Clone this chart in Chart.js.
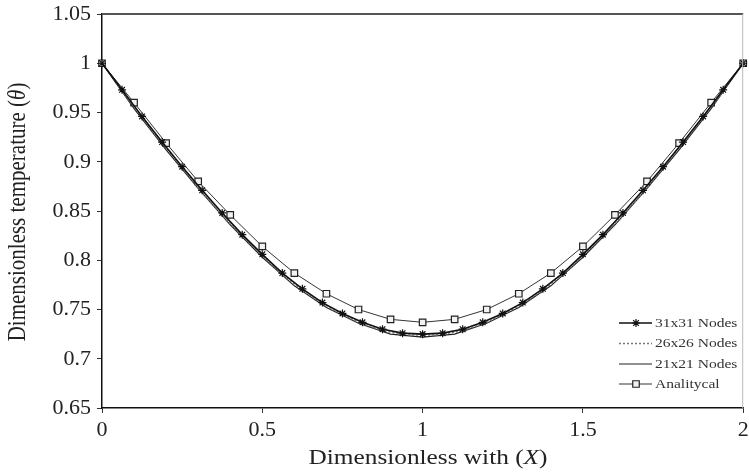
<!DOCTYPE html>
<html>
<head>
<meta charset="utf-8">
<script src="https://cdn.jsdelivr.net/npm/chart.js@4.4.0/dist/chart.umd.min.js"></script>
<style>
  body { margin: 0; background: #fff; }
  canvas { display: block; }
</style>
</head>
<body>
<canvas id="thetaChart" width="749" height="474"></canvas>
<script>
// 31x31 grid solution (marked with stars)
let x31 = [0, 0.0625, 0.125, 0.1875, 0.25, 0.3125, 0.375, 0.4375, 0.5, 0.5625, 0.625, 0.6875, 0.75, 0.8125, 0.875, 0.9375, 1,
           1.0625, 1.125, 1.1875, 1.25, 1.3125, 1.375, 1.4375, 1.5, 1.5625, 1.625, 1.6875, 1.75, 1.8125, 1.875, 1.9375, 2];
let theta31 = [1.000, 0.973, 0.946, 0.920, 0.895, 0.871, 0.848, 0.826, 0.806, 0.787, 0.771, 0.757, 0.746, 0.737, 0.730, 0.726, 0.725,
               0.726, 0.730, 0.737, 0.746, 0.757, 0.771, 0.787, 0.806, 0.826, 0.848, 0.871, 0.895, 0.920, 0.946, 0.973, 1.000];

// 26x26 grid
let x26 = [0, 0.08, 0.16, 0.24, 0.32, 0.40, 0.48, 0.56, 0.64, 0.72, 0.80, 0.88, 0.96,
           1.04, 1.12, 1.20, 1.28, 1.36, 1.44, 1.52, 1.60, 1.68, 1.76, 1.84, 1.92, 2];
let theta26 = [1.000, 0.964, 0.930, 0.898, 0.866, 0.837, 0.811, 0.786, 0.766, 0.750, 0.737, 0.728, 0.724,
               0.724, 0.728, 0.737, 0.750, 0.766, 0.786, 0.811, 0.837, 0.866, 0.898, 0.930, 0.964, 1.000];

// 21x21 grid
let x21 = [0, 0.1, 0.2, 0.3, 0.4, 0.5, 0.6, 0.7, 0.8, 0.9, 1, 1.1, 1.2, 1.3, 1.4, 1.5, 1.6, 1.7, 1.8, 1.9, 2];
let theta21 = [1.000, 0.954, 0.912, 0.873, 0.836, 0.803, 0.774, 0.752, 0.736, 0.725, 0.722,
               0.725, 0.736, 0.752, 0.774, 0.803, 0.836, 0.873, 0.912, 0.954, 1.000];

// analytical solution
let xAna = [0, 0.1, 0.2, 0.3, 0.4, 0.5, 0.6, 0.7, 0.8, 0.9, 1, 1.1, 1.2, 1.3, 1.4, 1.5, 1.6, 1.7, 1.8, 1.9, 2];
let thetaAna = [1.000, 0.960, 0.919, 0.880, 0.846, 0.814, 0.787, 0.766, 0.750, 0.740, 0.737,
                0.740, 0.750, 0.766, 0.787, 0.814, 0.846, 0.880, 0.919, 0.960, 1.000];

let seriesNames = ['31x31 Nodes', '26x26 Nodes', '21x21 Nodes', 'Analitycal'];
let xTicks = [0, 0.5, 1, 1.5, 2];
let yTicks = [0.65, 0.7, 0.75, 0.8, 0.85, 0.9, 0.95, 1, 1.05];

const SERIF = '"Liberation Serif", serif';
const STRETCH = 1.15;

function pts(xs, ys) {
    return xs.map((x, i) => ({ x: x, y: ys[i] }));
}

// text with italic pieces, horizontally stretched like the rest of the figure
function drawRich(ctx, parts, size, cx, cy, rotate) {
    ctx.save();
    ctx.translate(cx, cy);
    if (rotate) {
        ctx.rotate(-Math.PI / 2);
        ctx.scale(1, STRETCH);
    } else {
        ctx.scale(STRETCH, 1);
    }
    ctx.textBaseline = 'middle';
    ctx.textAlign = 'left';
    let total = 0;
    for (let p of parts) {
        ctx.font = (p.italic ? 'italic ' : '') + size + 'px ' + SERIF;
        p.w = ctx.measureText(p.t).width;
        total += p.w;
    }
    let x = -total / 2;
    for (let p of parts) {
        ctx.font = (p.italic ? 'italic ' : '') + size + 'px ' + SERIF;
        ctx.fillText(p.t, x, 0);
        x += p.w;
    }
    ctx.restore();
}

const decor = {
    id: 'decor',
    afterDraw(chart) {
        const ctx = chart.ctx;
        const a = chart.chartArea;
        ctx.save();
        // frame on top and right
        ctx.strokeStyle = '#555';
        ctx.lineWidth = 2;
        ctx.beginPath();
        ctx.moveTo(a.left, a.top);
        ctx.lineTo(a.right, a.top);
        ctx.stroke();
        ctx.strokeStyle = '#bbb';
        ctx.lineWidth = 1;
        ctx.beginPath();
        ctx.moveTo(a.right - 0.5, a.top);
        ctx.lineTo(a.right - 0.5, a.bottom);
        ctx.stroke();

        // axis titles
        ctx.fillStyle = '#222';
        drawRich(ctx, [{ t: 'Dimensionless with (' }, { t: 'X', italic: true }, { t: ')' }], 22, 428, 458, false);
        drawRich(ctx, [{ t: 'Dimensionless temperature (' }, { t: 'θ', italic: true }, { t: ')' }], 21, 19, 212, true);

        // legend, bottom right inside the plot
        const rows = [323, 343.5, 364, 384];
        chart.data.datasets.forEach((ds, i) => {
            const y = rows[i];
            ctx.save();
            ctx.strokeStyle = ds.borderColor;
            ctx.lineWidth = ds.borderWidth;
            ctx.setLineDash(ds.borderDash || []);
            ctx.beginPath();
            ctx.moveTo(619, y);
            ctx.lineTo(652, y);
            ctx.stroke();
            ctx.restore();
            if (ds.pointRadius > 0) {
                ctx.save();
                ctx.strokeStyle = ds.pointBorderColor;
                ctx.fillStyle = ds.pointBackgroundColor;
                ctx.lineWidth = ds.pointBorderWidth;
                Chart.helpers.drawPoint(ctx, {
                    pointStyle: ds.pointStyle,
                    radius: ds.pointRadius,
                    rotation: 0,
                    borderWidth: ds.pointBorderWidth
                }, 636, y);
                ctx.restore();
            }
            ctx.save();
            ctx.fillStyle = '#333';
            ctx.translate(655, y);
            ctx.scale(STRETCH, 1);
            ctx.font = '13.5px ' + SERIF;
            ctx.textBaseline = 'middle';
            ctx.fillText(ds.label, 0, 0);
            ctx.restore();
        });
        ctx.restore();
    }
};

function buildChart() {
    new Chart(document.getElementById('thetaChart'), {
        type: 'line',
        data: {
            datasets: [{
                    label: seriesNames[0],
                    data: pts(x31, theta31),
                    borderColor: '#111',
                    borderWidth: 1.6,
                    pointStyle: 'star',
                    pointRadius: 4,
                    pointBorderWidth: 1.2,
                    pointBorderColor: '#111',
                    pointBackgroundColor: '#111'
                },
                {
                    label: seriesNames[1],
                    data: pts(x26, theta26),
                    borderColor: '#777',
                    borderWidth: 1.5,
                    borderDash: [2, 2],
                    pointRadius: 0
                },
                {
                    label: seriesNames[2],
                    data: pts(x21, theta21),
                    borderColor: '#222',
                    borderWidth: 1.2,
                    pointRadius: 0
                },
                {
                    label: seriesNames[3],
                    data: pts(xAna, thetaAna),
                    borderColor: '#333',
                    borderWidth: 1,
                    pointStyle: 'rect',
                    pointRadius: 4.6,
                    pointBorderWidth: 1.2,
                    pointBorderColor: '#222',
                    pointBackgroundColor: '#f2f2f2'
                }
            ]
        },
        options: {
            responsive: false,
            animation: false,
            clip: false,
            layout: {
                padding: { top: 14, right: 1, left: 0, bottom: 0 }
            },
            plugins: {
                legend: { display: false },
                tooltip: { enabled: false }
            },
            scales: {
                x: {
                    type: 'linear',
                    min: 0,
                    max: 2,
                    afterBuildTicks: s => { s.ticks = xTicks.map(v => ({ value: v })); },
                    afterFit: s => { s.height = 66; s.paddingLeft = 0; s.paddingRight = 0; },
                    ticks: {
                        color: '#222',
                        padding: 4,
                        maxRotation: 0,
                        font: { family: SERIF, size: 22 },
                        callback: v => String(v)
                    },
                    grid: { display: true, drawOnChartArea: false, drawTicks: true, tickLength: 5, color: '#333' },
                    border: { display: true, color: '#111', width: 1.5 }
                },
                y: {
                    min: 0.65,
                    max: 1.05,
                    afterBuildTicks: s => { s.ticks = yTicks.map(v => ({ value: v })); },
                    afterFit: s => { s.width = 102; s.paddingTop = 0; s.paddingBottom = 0; },
                    ticks: {
                        color: '#222',
                        padding: 6,
                        font: { family: SERIF, size: 22 },
                        callback: v => String(Number(v.toFixed(2)))
                    },
                    grid: { display: true, drawOnChartArea: false, drawTicks: true, tickLength: 5, color: '#333' },
                    border: { display: true, color: '#111', width: 1.5 }
                }
            }
        },
        plugins: [decor]
    });
}

// make sure the serif face is ready before the canvas draws text
Promise.all([
    document.fonts.load('22px "Liberation Serif"'),
    document.fonts.load('italic 22px "Liberation Serif"')
]).then(buildChart, buildChart);
</script>
</body>
</html>
